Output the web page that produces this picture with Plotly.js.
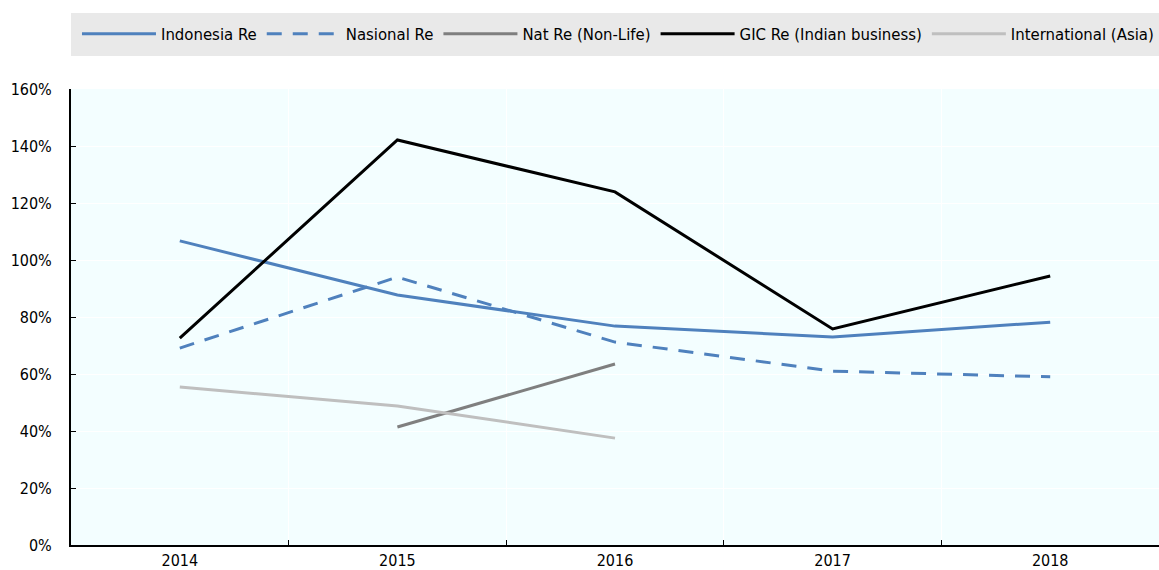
<!DOCTYPE html>
<html>
<head>
<meta charset="utf-8">
<script src="https://cdn.plot.ly/plotly-3.0.1.min.js"></script>
<style>
  html, body { margin: 0; padding: 0; background: #fff; }
  #chart { width: 1159px; height: 570px; }
</style>
</head>
<body>
<div id="chart"></div>
<script>
// years on the x axis
const years = ["2014", "2015", "2016", "2017", "2018"];

// loss ratios in %
const indonesiaRe = [106.7, 87.7, 76.8, 73.0, 78.2];
const nasionalRe = [69.1, 94.0, 71.2, 61.0, 59.0];
const natRe = [null, 41.4, 63.5, null, null];
const gicRe = [72.6, 142.1, 123.9, 75.8, 94.4];
const intlAsia = [55.4, 48.8, 37.5, null, null];

const seriesNames = [
  "Indonesia Re",
  "Nasional Re",
  "Nat Re (Non-Life)",
  "GIC Re (Indian business)",
  "International (Asia)",
];

const yTicks = [0, 20, 40, 60, 80, 100, 120, 140, 160];

const FONT = "'DejaVu Sans Condensed', 'Liberation Sans', Arial, sans-serif";

function line(y, name, color, dash) {
  return {
    type: "scatter",
    mode: "lines",
    x: years,
    y: y,
    name: name,
    line: { color: color, width: 3, dash: dash || "solid" },
    connectgaps: false,
    hoverinfo: "skip",
  };
}

const traces = [
  line(indonesiaRe, seriesNames[0], "#4F81BD"),
  line(nasionalRe, seriesNames[1], "#4F81BD", "15px,11px"),
  line(natRe, seriesNames[2], "#7F7F7F"),
  line(gicRe, seriesNames[3], "#000000"),
  line(intlAsia, seriesNames[4], "#BFBFBF"),
];

const layout = {
  width: 1159,
  height: 570,
  margin: { l: 71, r: 0, t: 89, b: 25 },
  paper_bgcolor: "#ffffff",
  plot_bgcolor: "#F3FEFF",
  font: { family: FONT, size: 15, color: "#000" },
  showlegend: true,
  legend: {
    orientation: "h",
    x: 0.0055,
    xanchor: "left",
    y: 1.1206,
    yanchor: "middle",
    bgcolor: "rgba(0,0,0,0)",
    font: { family: FONT, size: 16.6, color: "#000" },
    itemwidth: 74,
    traceorder: "normal",
  },
  shapes: [
    {
      type: "rect",
      xref: "paper",
      yref: "paper",
      x0: 0,
      x1: 1,
      y0: 1.0724,
      y1: 1.1667,
      fillcolor: "#E9E9E9",
      line: { width: 0 },
      layer: "below",
    },
  ],
  xaxis: {
    type: "category",
    range: [-0.5, 4.5],
    showline: true,
    linecolor: "#000",
    linewidth: 2,
    ticks: "inside",
    tickson: "boundaries",
    ticklen: 5,
    tickcolor: "#000",
    showgrid: true,
    gridcolor: "#ffffff",
    gridwidth: 1,
    zeroline: false,
    tickfont: { family: FONT, size: 16 },
  },
  yaxis: {
    range: [0, 160],
    tickvals: yTicks,
    ticktext: yTicks.map((v) => v + "%"),
    showline: true,
    linecolor: "#000",
    linewidth: 2,
    ticks: "inside",
    ticklen: 5,
    tickcolor: "#000",
    ticklabelstandoff: 14,
    showgrid: true,
    gridcolor: "#ffffff",
    gridwidth: 1,
    zeroline: false,
    tickfont: { family: FONT, size: 16 },
  },
};

Plotly.newPlot("chart", traces, layout, { displayModeBar: false, staticPlot: true });
</script>
</body>
</html>
